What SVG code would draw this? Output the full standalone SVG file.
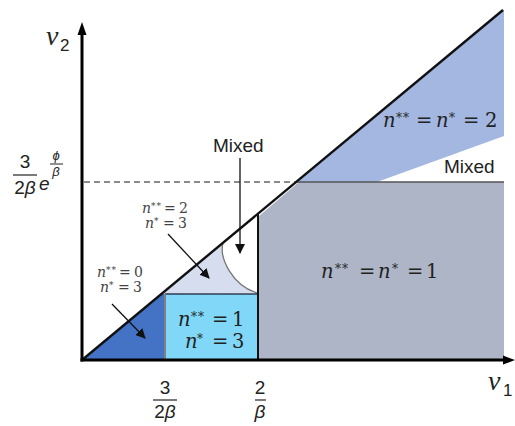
<svg xmlns="http://www.w3.org/2000/svg" width="515" height="426" viewBox="0 0 515 426">
<style>
.m{font-family:"DejaVu Serif","Liberation Serif",serif;font-style:italic;fill:#222}
.sm{font-size:14px;fill:#444}
.big{font-size:19.5px}
.sup{font-style:normal}
.ast{font-style:normal;letter-spacing:1px}
.s{font-family:"Liberation Sans","Arial",sans-serif;fill:#222}
.v{font-family:"Liberation Serif","DejaVu Serif",serif;font-style:italic;fill:#222}
.con{stroke:#111;stroke-width:1.3;fill:none;marker-end:url(#ah)}
</style>
<defs>
<marker id="ah" viewBox="0 0 10 10" refX="9" refY="5" markerWidth="10" markerHeight="10" markerUnits="userSpaceOnUse" orient="auto">
<path d="M0,0 L10,5 L0,10 z" fill="#111"/>
</marker>
</defs>
<rect width="515" height="426" fill="#fff"/>

<g id="region-n2">
<polygon points="296,182 503.5,9.5 504,10 504,136 377,182" fill="#a4b7e0"/>
</g>
<g id="region-n1">
<polygon points="259,360 259,216 299,182 504,182 504,360" fill="#adb5c6"/>
</g>
<g id="region-n0-n3">
<polygon points="82,360 165,360 165,291" fill="#4472c4"/>
</g>
<g id="region-n2-n3">
<path d="M161,294 L223,242.5 C219,258 232,285 257,293 Z" fill="#d5ddef"/>
<path d="M223,242.5 C219,258 232,285 257,293" fill="none" stroke="#777" stroke-width="1.3"/>
</g>
<g id="region-n1-n3">
<rect x="165" y="294" width="93" height="66" fill="#80d7f7"/>
<line x1="165" y1="294" x2="258" y2="294" stroke="#2c3a55" stroke-width="1.5"/>
<line x1="165" y1="294" x2="165" y2="360" stroke="#808080" stroke-width="2"/>
</g>

<g id="boundaries">
<line x1="258" y1="214" x2="258" y2="360" stroke="#111" stroke-width="2"/>
<line x1="296" y1="182" x2="504" y2="182" stroke="#555" stroke-width="1.5"/>
<line x1="84" y1="182" x2="296" y2="182" stroke="#666" stroke-width="1.3" stroke-dasharray="6 4"/>
<line x1="82" y1="360" x2="503" y2="10" stroke="#111" stroke-width="2.4"/>
</g>

<g id="axes">
<line x1="82" y1="361.5" x2="82" y2="33" stroke="#000" stroke-width="3"/>
<polygon points="82,22 77.5,35 86.5,35" fill="#000"/>
<line x1="80.5" y1="360" x2="505" y2="360" stroke="#000" stroke-width="3"/>
<polygon points="515,360 503,355.5 503,364.5" fill="#000"/>
</g>

<g id="connectors">
<line class="con" x1="240" y1="158" x2="240" y2="253"/>
<line class="con" x1="168" y1="234" x2="209" y2="278"/>
<line class="con" x1="112" y1="304" x2="145" y2="338"/>
</g>

<g id="labels">
<text class="m big"><tspan x="383" y="127">n</tspan><tspan class="ast" font-size="12" x="396" y="122">**</tspan><tspan class="sup" x="416" y="127">=</tspan><tspan x="436" y="127">n</tspan><tspan class="sup" font-size="12" x="449" y="122">*</tspan><tspan class="sup" x="463" y="127">=</tspan><tspan class="sup" x="485" y="127">2</tspan></text>
<text class="s" x="444" y="173" font-size="19">Mixed</text>
<text class="s" x="213" y="152" font-size="19">Mixed</text>

<text class="m big"><tspan x="321" y="278">n</tspan><tspan class="ast" font-size="12" x="335" y="273">**</tspan><tspan class="sup" x="359" y="278">=</tspan><tspan x="378" y="278">n</tspan><tspan class="sup" font-size="12" x="392" y="273">*</tspan><tspan class="sup" x="407" y="278">=</tspan><tspan class="sup" x="426" y="278">1</tspan></text>

<text class="m big"><tspan x="178" y="326">n</tspan><tspan class="ast" font-size="12" x="191" y="321">**</tspan><tspan class="sup" x="212" y="326">=</tspan><tspan class="sup" x="232" y="326">1</tspan></text>
<text class="m big"><tspan x="185" y="348">n</tspan><tspan class="sup" font-size="12" x="197" y="343">*</tspan><tspan class="sup" x="212" y="348">=</tspan><tspan class="sup" x="232" y="348">3</tspan></text>

<text class="m sm"><tspan x="142" y="213">n</tspan><tspan class="ast" font-size="9" x="151" y="209">**</tspan><tspan class="sup" x="164" y="213">=</tspan><tspan class="sup" x="179" y="213">2</tspan></text>
<text class="m sm"><tspan x="145" y="228">n</tspan><tspan class="sup" font-size="9" x="154" y="224">*</tspan><tspan class="sup" x="163" y="228">=</tspan><tspan class="sup" x="178" y="228">3</tspan></text>
<text class="m sm"><tspan x="97" y="277">n</tspan><tspan class="ast" font-size="9" x="106" y="273">**</tspan><tspan class="sup" x="119" y="277">=</tspan><tspan class="sup" x="134" y="277">0</tspan></text>
<text class="m sm"><tspan x="100" y="292">n</tspan><tspan class="sup" font-size="9" x="109" y="288">*</tspan><tspan class="sup" x="118" y="292">=</tspan><tspan class="sup" x="133" y="292">3</tspan></text>
</g>

<g id="axis-labels">
<text class="v" x="46" y="45" font-size="28">v</text>
<text class="s" x="60" y="51" font-size="17">2</text>
<text class="v" x="488" y="390" font-size="28">v</text>
<text class="s" x="503" y="396" font-size="17">1</text>

<text class="s" x="165" y="394" font-size="19" text-anchor="middle">3</text>
<line x1="153" y1="400" x2="177" y2="400" stroke="#222" stroke-width="1.2"/>
<text class="s" x="165" y="418" font-size="19" text-anchor="middle">2<tspan font-style="italic">β</tspan></text>

<text class="s" x="260" y="394" font-size="19" text-anchor="middle">2</text>
<line x1="255" y1="400" x2="266" y2="400" stroke="#222" stroke-width="1.2"/>
<text class="s" x="260" y="418" font-size="19" font-style="italic" text-anchor="middle">β</text>

<text class="s" x="25" y="168" font-size="19" text-anchor="middle">3</text>
<line x1="13" y1="175" x2="37" y2="175" stroke="#222" stroke-width="1.2"/>
<text class="s" x="25" y="194" font-size="19" text-anchor="middle">2<tspan font-style="italic">β</tspan></text>
<text class="s" x="39" y="190" font-size="19" font-style="italic">e</text>
<text class="s" x="56" y="160" font-size="13" font-style="italic" text-anchor="middle">ϕ</text>
<line x1="50" y1="164" x2="63" y2="164" stroke="#222" stroke-width="1"/>
<text class="s" x="56" y="176" font-size="13" font-style="italic" text-anchor="middle">β</text>
</g>
</svg>
